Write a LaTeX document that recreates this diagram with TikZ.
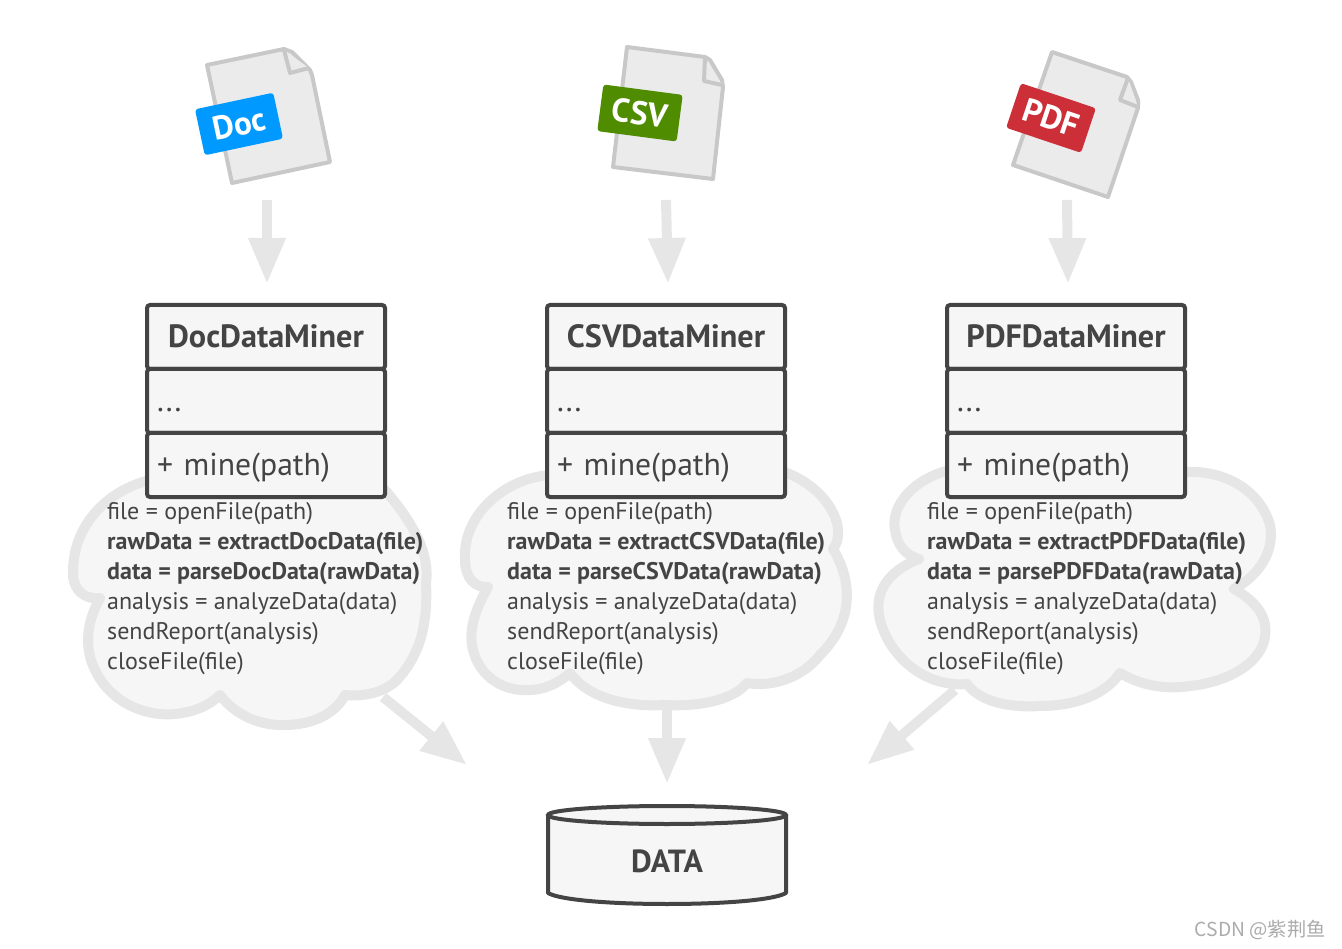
\documentclass[tikz,border=0pt]{standalone}
\usepackage{fontspec}
\setmainfont{PT Sans}
\newfontfamily\markfont{Noto Sans CJK SC}
\definecolor{myink}{HTML}{444444}
\definecolor{mypaper}{HTML}{F6F6F6}
\definecolor{mysmoke}{HTML}{E6E6E6}
\definecolor{mypage}{HTML}{EBEBEB}
\definecolor{myedge}{HTML}{C8C8C8}
\definecolor{myblue}{HTML}{0099FF}
\definecolor{mygreen}{HTML}{4F8C00}
\definecolor{myred}{HTML}{CC2F38}
\usetikzlibrary{arrows.meta}
\tikzset{
	namenode/.style={
			rectangle,
			rounded corners=3pt,
			draw=myink,
			fill=mypaper,
			line width=4pt,
			minimum width=238pt,
			minimum height=64pt,
			inner sep=0pt,
			text=myink,
			text height=26.5pt,
			text depth=5pt,
			font=\fontsize{32.2}{36}\selectfont\bfseries
		},
	membernode/.style={
			namenode,
			text width=218pt,
			inner xsep=10pt,
			align=left,
			font=\fontsize{31.7}{36}\selectfont
		},
	codenode/.style={
			anchor=north west,
			inner sep=0pt,
			align=left,
			text=myink,
			font=\fontsize{24}{30}\selectfont
		},
	tagnode/.style={
			rectangle,
			rounded corners=3pt,
			minimum height=47pt,
			inner sep=0pt,
			text=white,
			font=\fontsize{33}{36}\selectfont\bfseries
		},
	cloudline/.style={
			draw=mysmoke,
			fill=mypaper,
			line width=10pt,
			line join=round
		},
	pageline/.style={
			draw=myedge,
			fill=mypage,
			line width=4pt,
			line join=round
		},
	flowline/.style={
			draw=mysmoke,
			line width=10pt,
			-{Triangle[width=35pt,length=46pt]}
		}
}
\begin{document}
\begin{tikzpicture}[x=1pt,y=-1pt]
\useasboundingbox (0,0) rectangle (1342,949);

\coordinate (aDocIn) at (267,200);
\coordinate (aCSVIn) at (666,200);
\coordinate (aPDFIn) at (1067,200);
\coordinate (aDocTip) at (267,284);
\coordinate (aCSVTip) at (668,284);
\coordinate (aPDFTip) at (1068,284);
\coordinate (aDocOut) at (383,697);
\coordinate (aCSVOut) at (667,700);
\coordinate (aPDFOut) at (955,690);
\coordinate (aDocEnd) at (467,765);
\coordinate (aCSVEnd) at (667,784);
\coordinate (aPDFEnd) at (867,765);

\draw[flowline] (aDocIn) -- (aDocTip);
\draw[flowline] (aCSVIn) -- (aCSVTip);
\draw[flowline] (aPDFIn) -- (aPDFTip);
\draw[flowline] (aDocOut) -- (aDocEnd);
\draw[flowline] (aCSVOut) -- (aCSVEnd);
\draw[flowline] (aPDFOut) -- (aPDFEnd);

% files
\draw[pageline] (207,65) -- (284,49) -- (292,52) -- (310,70) -- (312,75) -- (330,162) -- (232,183) -- cycle;
\draw[pageline] (284,50) -- (290,73) -- (309,68);
\node[tagnode, fill=myblue, minimum width=80pt, rotate=12] (tDoc) at (239,124) {Doc};
\draw[pageline] (627,47) -- (705,57) -- (710,60) -- (722,80) -- (723,87) -- (713,179) -- (613,167) -- cycle;
\draw[pageline] (705,58) -- (704,81) -- (722,85);
\node[tagnode, fill=mygreen, minimum width=80pt, rotate=-7.5] (tCSV) at (640,113) {CSV};
\draw[pageline] (1052,52) -- (1127,77) -- (1131,82) -- (1138,100) -- (1138,108) -- (1108,197) -- (1013,165) -- cycle;
\draw[pageline] (1128,78) -- (1120,100) -- (1138,107);
\node[tagnode, fill=myred, minimum width=79pt, rotate=-18.5] (tPDF) at (1051,118) {PDF};

% clouds
\draw[cloudline] (150,480) .. controls (108,490) and (72,525) .. (73,574)
	.. controls (73,590) and (85,600) .. (100,598)
	.. controls (85,625) and (85,650) .. (95,670)
	.. controls (110,702) and (145,717) .. (175,714)
	.. controls (195,712) and (210,705) .. (220,695)
	.. controls (235,715) and (260,726) .. (285,725)
	.. controls (310,725) and (335,715) .. (345,695)
	.. controls (365,697) and (385,692) .. (397,680)
	.. controls (420,655) and (428,625) .. (426,583)
	.. controls (430,555) and (415,525) .. (385,490) -- cycle;
\draw[cloudline] (550,475) .. controls (505,478) and (462,515) .. (465,560)
	.. controls (465,578) and (475,588) .. (488,587)
	.. controls (475,610) and (468,630) .. (473,650)
	.. controls (480,678) and (505,692) .. (530,690)
	.. controls (545,690) and (560,682) .. (570,673)
	.. controls (590,700) and (630,707) .. (665,705)
	.. controls (705,707) and (735,698) .. (747,683)
	.. controls (775,688) and (805,675) .. (820,655)
	.. controls (851,625) and (855,585) .. (833,549)
	.. controls (848,530) and (830,490) .. (787,473) -- cycle;
\draw[cloudline] (950,470) .. controls (915,478) and (890,505) .. (895,530)
	.. controls (897,545) and (905,555) .. (919,559)
	.. controls (890,570) and (875,590) .. (879,615)
	.. controls (885,650) and (920,688) .. (967,684)
	.. controls (980,702) and (1010,708) .. (1040,706)
	.. controls (1075,706) and (1105,695) .. (1120,673)
	.. controls (1140,685) and (1165,690) .. (1190,686)
	.. controls (1230,682) and (1270,660) .. (1265,625)
	.. controls (1263,610) and (1250,598) .. (1234,589)
	.. controls (1260,575) and (1275,550) .. (1270,525)
	.. controls (1260,490) and (1225,470) .. (1185,472) -- cycle;

% classes
\node[namenode] (tDocName) at (266,337) {DocDataMiner};
\node[membernode] (tDocField) at (266,401) {...};
\node[membernode] (tDocMine) at (266,465) {+ mine(path)};
\node[namenode] (tCSVName) at (666,337) {CSVDataMiner};
\node[membernode] (tCSVField) at (666,401) {...};
\node[membernode] (tCSVMine) at (666,465) {+ mine(path)};
\node[namenode] (tPDFName) at (1066,337) {PDFDataMiner};
\node[membernode] (tPDFField) at (1066,401) {...};
\node[membernode] (tPDFMine) at (1066,465) {+ mine(path)};

\node[codenode] (cDoc) at (107,502) {file = openFile(path)\\
	\textbf{rawData = extractDocData(file)}\\
	\textbf{data = parseDocData(rawData)}\\
	analysis = analyzeData(data)\\
	sendReport(analysis)\\
	closeFile(file)};
\node[codenode] (cCSV) at (507,502) {file = openFile(path)\\
	\textbf{rawData = extractCSVData(file)}\\
	\textbf{data = parseCSVData(rawData)}\\
	analysis = analyzeData(data)\\
	sendReport(analysis)\\
	closeFile(file)};
\node[codenode] (cPDF) at (927,502) {file = openFile(path)\\
	\textbf{rawData = extractPDFData(file)}\\
	\textbf{data = parsePDFData(rawData)}\\
	analysis = analyzeData(data)\\
	sendReport(analysis)\\
	closeFile(file)};

% storage
\draw[draw=myink, fill=mypaper, line width=4pt, line join=round] (548,815) -- (548,893)
	.. controls (560,900) and (610,904) .. (667,904)
	.. controls (724,904) and (774,900) .. (786,893) -- (786,815);
\draw[draw=myink, fill=mypaper, line width=4pt] (667,815) ellipse [x radius=119pt, y radius=9pt];
\node[text=myink, font=\fontsize{32}{36}\selectfont\bfseries] (tData) at (667,861) {DATA};

\node[anchor=east, inner sep=0pt, text=black!33, font=\markfont\fontsize{19.3}{22}\selectfont] (tMark) at (1326,930) {CSDN @紫荆鱼};
\end{tikzpicture}
\end{document}
